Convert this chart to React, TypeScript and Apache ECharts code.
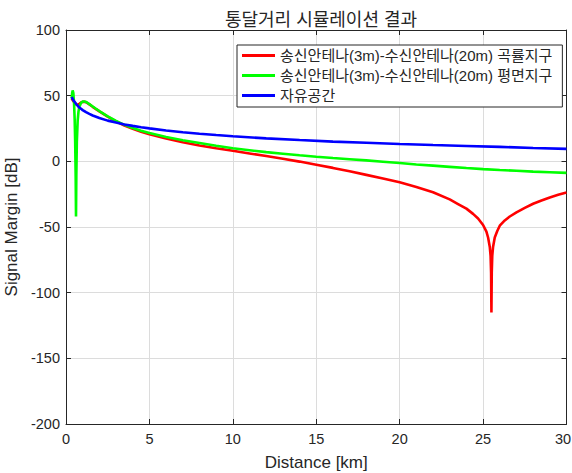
import React, { useEffect, useRef } from "react";
import * as echarts from "echarts";

const titleText = "통달거리 시뮬레이션 결과";
const xName = "Distance [km]";
const yName = "Signal Margin [dB]";
const seriesNames = [
  "송신안테나(3m)-수신안테나(20m) 곡률지구",
  "송신안테나(3m)-수신안테나(20m) 평면지구",
  "자유공간",
];

// [distance km, margin dB]
const curvedEarth: number[][] = [
  [0.34, 48], [0.4, 46.5], [0.5, 44.8], [0.6, 43.5], [0.7, 43], [0.8, 43.8], [0.9, 44.8],
  [1.0, 45.3], [1.1, 45.3], [1.2, 45], [1.4, 43.4], [1.6, 41.5], [1.8, 39.7], [2.0, 38],
  [2.5, 34], [3, 30.4], [3.5, 27.3], [4, 24.7], [4.5, 22.5], [5, 20.6], [6, 17.4], [7, 14.6],
  [8, 12.1], [9, 10], [10, 8], [11, 6], [12, 4], [13, 2], [14, -0.2], [15, -2.6], [16, -5],
  [17, -7.6], [18, -10.3], [19, -13], [20, -16], [21, -19.5], [22, -23.5], [23, -29],
  [23.5, -32.5], [24, -36], [24.4, -40], [24.7, -43.5], [25, -48.5], [25.2, -53.5],
  [25.3, -58], [25.4, -65], [25.45, -72], [25.48, -85], [25.5, -115], [25.52, -85],
  [25.55, -72], [25.6, -65], [25.7, -58], [25.85, -53], [26, -49], [26.3, -45], [26.6, -42],
  [27, -38.8], [27.5, -35.5], [28, -32.3], [28.5, -29.8], [29, -27.5], [29.5, -25.5], [30, -23.8],
];

const flatEarth: number[][] = [
  [0.34, 48], [0.37, 52], [0.4, 54], [0.44, 52], [0.48, 45], [0.52, 32], [0.55, 15],
  [0.58, -12], [0.6, -42], [0.62, -10], [0.65, 15], [0.7, 31], [0.75, 38], [0.8, 41.5],
  [0.9, 44.5], [1.0, 45.5], [1.1, 45.6], [1.2, 45.2], [1.4, 43.6], [1.6, 41.8], [1.8, 40],
  [2.0, 38.3], [2.5, 34.3], [3, 30.8], [3.5, 27.8], [4, 25.3], [4.5, 23.3], [5, 21.6],
  [6, 18.6], [7, 16.1], [8, 14], [9, 11.9], [10, 10], [11, 8.5], [12, 7], [13, 5.8],
  [14, 4.6], [15, 3.5], [16, 2.5], [17, 1.6], [18, 0.7], [19, -0.3], [20, -1.3], [21, -2.4],
  [22, -3.3], [23, -4.2], [24, -5.1], [25, -5.9], [26, -6.6], [27, -7.2], [28, -7.8],
  [29, -8.3], [30, -8.8],
];

const freeSpace: number[][] = [
  [0.34, 49], [0.4, 47.5], [0.5, 45.5], [0.6, 43.8], [0.7, 42.3], [0.8, 41], [0.9, 40],
  [1.0, 39], [1.2, 37.4], [1.4, 36.1], [1.6, 34.9], [1.8, 34], [2.0, 33], [2.5, 31],
  [3, 29.5], [3.5, 28.1], [4, 27], [4.5, 26], [5, 25.1], [6, 23.5], [7, 22.1], [8, 21],
  [9, 20], [10, 19.1], [12, 17.5], [14, 16.2], [16, 15], [18, 14.1], [20, 13.2], [22, 12.4],
  [24, 11.7], [26, 11], [28, 10.2], [30, 9.5],
];

const seriesColors = ["#ff0000", "#00ff00", "#0000ff"];

const FONT = "'Liberation Sans', Arial, 'Noto Sans CJK KR', sans-serif";
const AXIS_COLOR = "#262626";
const GRID_COLOR = "#dcdcdc";
const X_MAX = 30;

export default function App() {
  const ref = useRef<HTMLDivElement>(null);
  useEffect(() => {
    if (!ref.current) return;
    const chart = echarts.init(ref.current, undefined, { renderer: "svg" });
    const axisCommon = {
      type: "value" as const,
      axisLine: { show: true, onZero: false, lineStyle: { color: AXIS_COLOR, width: 1 } },
      axisTick: { show: true, inside: true, length: 5, lineStyle: { color: AXIS_COLOR } },
    };
    const allData = [curvedEarth, flatEarth, freeSpace];
    chart.setOption({
      animation: false,
      backgroundColor: "#ffffff",
      textStyle: { fontFamily: FONT },
      title: {
        text: titleText,
        left: 316,
        top: 6,
        textAlign: "center",
        textStyle: { fontFamily: FONT, fontSize: 18, fontWeight: "normal", color: AXIS_COLOR },
      },
      grid: {
        left: 66,
        right: 5.5,
        top: 30,
        bottom: 49,
        containLabel: false,
        outerBoundsMode: "none",
      },
      legend: {
        orient: "vertical",
        left: 237,
        top: 45,
        backgroundColor: "#ffffff",
        borderColor: AXIS_COLOR,
        borderWidth: 1,
        borderRadius: 0,
        padding: [3, 10, 4, 5],
        itemGap: 5,
        itemWidth: 33,
        itemHeight: 3,
        icon: "rect",
        textStyle: { fontFamily: FONT, fontSize: 15, color: AXIS_COLOR, lineHeight: 15 },
        data: seriesNames,
      },
      xAxis: [
        {
          ...axisCommon,
          position: "bottom",
          min: 0,
          max: X_MAX,
          interval: 5,
          name: xName,
          nameLocation: "middle",
          nameGap: 30,
          nameTextStyle: { fontFamily: FONT, fontSize: 17, color: AXIS_COLOR },
          axisLabel: {
            margin: 8,
            fontFamily: FONT,
            fontSize: 14.5,
            color: AXIS_COLOR,
            formatter: (v: number) => (v === X_MAX ? `{edge|${v}}` : String(v)),
            rich: {
              edge: {
                fontFamily: FONT,
                fontSize: 14.5,
                color: AXIS_COLOR,
                padding: [0, 7, 0, 0],
              },
            },
          },
          splitLine: { show: true, lineStyle: { color: GRID_COLOR, width: 1 } },
        },
        {
          ...axisCommon,
          position: "top",
          min: 0,
          max: X_MAX,
          interval: 5,
          axisLabel: { show: false },
          splitLine: { show: false },
        },
      ],
      yAxis: [
        {
          ...axisCommon,
          position: "left",
          min: -200,
          max: 100,
          interval: 50,
          name: yName,
          nameLocation: "middle",
          nameGap: 44,
          nameTextStyle: { fontFamily: FONT, fontSize: 17, color: AXIS_COLOR },
          axisLabel: { margin: 6, fontFamily: FONT, fontSize: 14.5, color: AXIS_COLOR },
          splitLine: { show: true, lineStyle: { color: GRID_COLOR, width: 1 } },
        },
        {
          ...axisCommon,
          position: "right",
          min: -200,
          max: 100,
          interval: 50,
          axisLabel: { show: false },
          splitLine: { show: false },
        },
      ],
      series: seriesNames.map((name, i) => ({
        name,
        type: "line",
        xAxisIndex: 0,
        yAxisIndex: 0,
        data: allData[i],
        showSymbol: false,
        symbol: "none",
        smooth: false,
        z: 2 + i,
        lineStyle: { color: seriesColors[i], width: 2.6 },
        itemStyle: { color: seriesColors[i] },
      })),
    });
    return () => chart.dispose();
  }, []);
  return (
    <div
      ref={ref}
      style={{ position: "absolute", left: 0, top: 0, width: 572, height: 473 }}
    />
  );
}
